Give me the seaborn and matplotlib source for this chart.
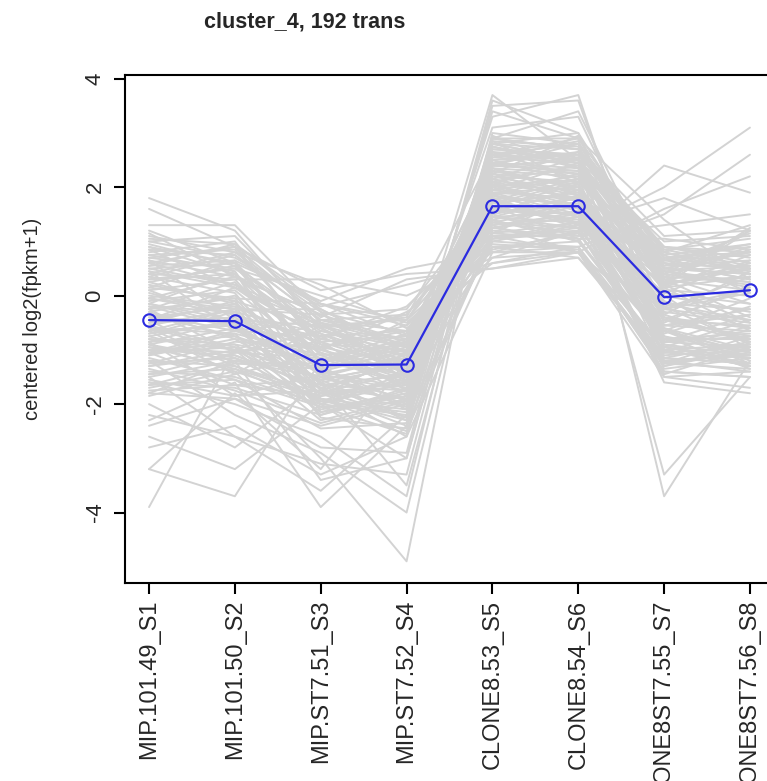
import numpy as np
import pandas as pd
import matplotlib
matplotlib.use("Agg")
import matplotlib.pyplot as plt
import seaborn as sns

samples = ["MIP.101.49_S1", "MIP.101.50_S2", "MIP.ST7.51_S3", "MIP.ST7.52_S4",
           "CLONE8.53_S5", "CLONE8.54_S6", "CLONE8ST7.55_S7", "CLONE8ST7.56_S8"]

cluster_mean = [-0.45, -0.47, -1.28, -1.27, 1.65, 1.65, -0.03, 0.10]

high_early = [
    [1.8, 1.2, -0.6, -1.3, 1.0, 0.9, -1.4, -1.5],
    [1.6, 0.9, -0.9, -1.0, 1.1, 1.2, -1.2, -1.1],
    [1.3, 1.3, -0.3, -1.6, 0.9, 1.0, -1.0, -1.3],
    [1.2, 0.6, -1.2, -0.8, 1.3, 0.8, -0.6, -1.2],
    [1.0, 1.1, -0.5, -0.9, 0.7, 1.2, -1.3, -0.9],
    [0.9, 0.4, -0.7, -1.4, 1.5, 1.0, -0.8, -0.8],
    [1.1, 0.8, 0.2, -0.6, 0.6, 0.8, -1.5, -1.4],
    [0.8, 1.0, -1.0, -0.3, 0.8, 0.9, -1.1, -1.0],
    [0.7, 0.5, 0.0, -0.5, 0.9, 0.7, -0.9, -1.3],
    [0.6, 0.9, -0.4, 0.3, 0.5, 0.8, -1.2, -1.4],
]

typical = [
    [0.5, 0.2, -0.8, -1.1, 1.6, 1.4, -0.6, -1.0],
    [0.3, 0.4, -1.1, -0.9, 1.9, 1.5, -0.9, -1.1],
    [0.2, -0.1, -0.6, -1.3, 1.4, 1.7, -0.4, -0.8],
    [0.1, 0.3, -1.4, -1.0, 1.8, 1.3, -0.2, -0.9],
    [0.0, -0.2, -0.9, -1.5, 1.5, 1.8, -0.3, -0.5],
    [-0.1, 0.1, -1.2, -0.7, 2.0, 1.6, -0.7, -0.2],
    [-0.2, -0.3, -0.7, -1.2, 1.7, 1.9, -0.1, -0.6],
    [-0.3, 0.0, -1.5, -1.1, 1.6, 1.5, 0.3, -0.4],
    [-0.4, -0.5, -1.0, -1.4, 2.1, 1.8, 0.0, -0.3],
    [-0.5, -0.4, -1.3, -0.9, 1.9, 2.0, -0.2, 0.1],
    [-0.6, -0.7, -1.1, -1.6, 1.8, 1.7, 0.4, 0.2],
    [-0.7, -0.3, -1.6, -1.3, 2.2, 1.9, 0.1, 0.0],
    [-0.8, -0.9, -1.2, -1.0, 1.7, 2.1, 0.5, 0.4],
    [-0.9, -0.6, -1.4, -1.7, 2.3, 2.0, 0.3, 0.5],
    [-1.0, -1.1, -1.7, -1.2, 2.0, 2.2, 0.6, 0.3],
    [-1.1, -0.8, -1.0, -1.5, 2.4, 2.3, 0.2, 0.6],
    [-1.2, -1.3, -1.8, -1.4, 2.1, 2.4, 0.7, 0.8],
    [-1.3, -1.0, -1.5, -1.9, 2.5, 2.1, 0.8, 0.5],
    [-1.4, -1.5, -2.0, -1.6, 2.6, 2.5, 0.4, 0.9],
    [-1.5, -1.2, -1.3, -2.1, 2.7, 2.6, 0.9, 0.7],
    [-1.6, -1.7, -2.2, -1.8, 2.8, 2.5, 1.0, 1.1],
    [-1.7, -1.4, -1.9, -2.3, 2.9, 2.7, 1.1, 1.2],
    [-1.8, -1.9, -2.4, -2.0, 2.6, 2.8, 0.8, 1.3],
]

high_late = [
    [-0.2, -0.6, -1.8, -2.4, 1.2, 1.1, 1.3, 1.5],
    [-0.4, -0.2, -2.0, -2.2, 1.0, 1.3, 1.8, 1.2],
    [-0.6, -1.0, -2.3, -1.9, 1.4, 1.0, 2.4, 1.9],
    [-0.3, -0.8, -1.7, -2.6, 0.8, 1.2, 2.0, 3.1],
    [0.1, -0.5, -2.1, -1.8, 0.9, 0.9, 1.5, 2.6],
    [-0.5, -0.1, -1.9, -2.5, 1.1, 0.8, 1.6, 2.2],
]

high_peak = [
    [-0.8, -1.0, -1.8, -1.6, 3.7, 2.5, -0.4, -0.6],
    [-0.9, -1.2, -1.5, -2.0, 3.5, 3.6, -0.8, -0.7],
    [-1.1, -0.7, -2.2, -1.7, 3.3, 3.7, -1.0, -0.9],
    [-0.6, -1.3, -1.9, -2.1, 3.6, 3.0, -0.5, 0.2],
    [-1.0, -0.9, -2.0, -1.5, 3.1, 3.3, 0.0, -1.0],
    [-0.7, -0.5, -1.6, -2.3, 2.9, 3.4, 0.2, -0.5],
    [-1.3, -1.1, -1.7, -1.9, 3.4, 2.9, 1.4, 0.3],
]

low_early = [
    [-3.9, -1.0, -0.5, -1.4, 2.2, 2.1, 0.5, 0.8],
    [-3.2, -3.7, -1.2, -0.8, 2.4, 2.3, 0.9, 0.6],
    [-3.2, -1.8, -3.2, -1.2, 2.3, 2.2, 0.2, 1.2],
    [-2.6, -3.2, -2.0, -3.0, 2.7, 2.6, 0.8, 0.4],
    [-2.3, -1.6, -3.9, -2.4, 2.8, 2.5, 0.6, 0.3],
    [-1.5, -2.6, -3.6, -2.2, 2.6, 2.4, 0.2, 0.5],
    [-0.9, -1.4, -3.0, -4.9, 2.9, 2.7, 0.4, 1.2],
    [-1.2, -2.2, -2.9, -4.0, 2.5, 2.6, 0.7, 0.9],
    [-2.0, -2.8, -1.6, -3.5, 2.4, 2.8, 0.6, 0.5],
    [-1.8, -1.2, -3.4, -3.0, 2.6, 2.5, 0.3, 0.1],
    [-2.8, -2.4, -3.3, -2.6, 2.9, 2.9, 0.7, 0.5],
    [-1.6, -2.0, -2.6, -3.7, 2.8, 2.7, 0.9, 0.8],
    [-2.4, -1.9, -2.8, -2.9, 3.0, 2.8, 0.5, 0.4],
    [-2.2, -2.6, -3.1, -3.3, 2.8, 3.0, 0.5, 0.8],
]

low_s7 = [
    [0.3, 0.5, -0.6, -0.4, 2.6, 2.9, -3.7, -1.2],
    [0.6, 0.2, -0.5, -0.8, 2.4, 2.5, -3.3, -1.5],
    [0.4, 0.8, -0.3, -0.7, 1.9, 1.8, -1.6, -1.8],
    [0.9, 0.6, -0.8, -0.2, 1.3, 1.5, -1.5, -1.7],
]

flat_low_peak = [
    [0.7, 0.9, 0.1, 0.4, 0.5, 0.7, -1.2, -1.1],
    [0.4, 0.3, 0.3, 0.0, 0.7, 0.8, -1.0, -1.3],
    [1.0, 0.7, -0.2, 0.2, 0.6, 0.9, -1.4, -1.5],
    [0.5, 0.6, -0.1, 0.5, 0.8, 0.8, -1.3, -1.0],
]

band_fill = [
    [0.45, 0.15, -0.95, -1.25, 1.45, 1.35, -0.45, -0.75],
    [0.25, 0.55, -1.25, -0.85, 1.75, 1.25, -0.65, -1.05],
    [-0.05, -0.35, -0.85, -1.35, 1.55, 1.65, -0.15, -0.45],
    [-0.25, 0.25, -1.35, -1.05, 1.85, 1.45, -0.55, -0.35],
    [-0.45, -0.15, -1.05, -1.55, 1.95, 1.75, 0.15, -0.65],
    [-0.65, -0.55, -1.45, -1.15, 2.05, 1.95, -0.25, 0.05],
    [-0.85, -0.75, -1.25, -1.45, 2.15, 1.85, 0.35, 0.25],
    [-1.05, -0.95, -1.55, -1.25, 1.95, 2.15, 0.45, 0.15],
    [-1.25, -1.15, -1.65, -1.75, 2.35, 2.25, 0.55, 0.65],
    [-1.45, -1.35, -1.85, -1.55, 2.45, 2.35, 0.65, 0.75],
    [-1.65, -1.55, -2.05, -1.95, 2.55, 2.45, 0.75, 0.95],
    [0.85, 0.75, -0.45, -0.65, 1.15, 1.05, -1.05, -1.15],
    [1.05, 0.95, -0.15, -0.45, 0.95, 0.85, -1.25, -1.35],
    [0.65, 0.35, -0.65, -0.95, 1.35, 1.15, -0.85, -0.95],
    [-0.15, -0.45, -0.55, -0.95, 1.25, 1.45, 0.05, -0.15],
    [-0.35, -0.65, -0.75, -0.65, 1.35, 1.25, 0.25, 0.35],
    [-0.55, -0.25, -0.35, -0.85, 1.15, 1.35, 0.45, 0.55],
    [-0.75, -0.45, -0.95, -0.55, 1.05, 1.15, 0.85, 1.05],
    [-0.95, -1.05, -0.65, -1.05, 1.25, 1.05, 1.05, 0.85],
    [0.15, -0.05, -1.65, -1.45, 2.25, 2.05, -0.35, -0.85],
    [0.35, 0.05, -1.85, -1.65, 2.45, 2.25, -0.75, -1.05],
    [-0.15, 0.45, -2.15, -1.85, 2.65, 2.55, -0.95, -0.45],
    [0.55, 0.65, -1.45, -1.75, 2.75, 2.35, -1.15, -1.25],
    [0.75, 0.45, -1.75, -2.05, 2.15, 2.65, -0.85, -0.65],
    [-0.05, -0.25, -2.25, -2.45, 2.85, 2.75, -0.15, -0.25],
]

band_fill2 = [
    [0.95, 0.55, -0.55, -1.15, 1.25, 1.45, -0.95, -1.25],
    [0.75, 0.85, -0.85, -0.75, 1.05, 1.25, -0.75, -1.35],
    [0.55, 0.95, -0.25, -1.05, 1.65, 1.05, -1.15, -0.85],
    [0.35, 0.75, -0.45, -0.35, 1.45, 1.55, -1.35, -1.15],
    [0.15, 0.65, -0.15, -0.55, 1.15, 1.85, -1.05, -0.95],
    [-0.05, 0.35, -0.35, -0.25, 1.75, 1.35, -1.25, -1.05],
    [-0.25, -0.05, -0.15, -0.75, 1.55, 1.95, -0.65, -1.25],
    [-0.45, 0.15, -0.55, -0.45, 1.85, 1.65, -0.85, -0.75],
    [-0.65, -0.25, -0.25, -1.05, 2.05, 1.55, -0.45, -0.55],
    [-0.85, -0.45, -0.75, -0.35, 1.65, 2.05, -0.55, -0.25],
    [-1.05, -0.65, -0.45, -0.85, 2.25, 1.75, -0.35, 0.45],
    [-1.25, -0.85, -0.95, -0.65, 1.85, 2.25, 0.15, 0.75],
    [-1.45, -1.05, -1.15, -1.35, 2.35, 1.95, 0.55, 1.15],
    [-1.65, -1.25, -1.35, -0.95, 2.05, 2.55, 0.25, 1.25],
    [-1.85, -1.45, -1.05, -1.65, 2.65, 2.15, 0.65, 0.95],
    [-1.75, -1.65, -1.55, -1.25, 2.45, 2.65, 0.85, 0.55],
    [-1.55, -1.85, -1.75, -2.25, 2.75, 2.45, 0.35, 0.85],
    [-1.35, -1.75, -2.35, -1.95, 2.55, 2.85, 0.05, 0.65],
    [-1.15, -1.55, -2.45, -2.35, 2.95, 2.35, -0.25, 0.35],
    [-0.95, -1.35, -2.05, -2.55, 2.25, 2.95, -0.45, 0.15],
    [-0.75, -1.15, -1.95, -2.15, 2.85, 2.05, -0.65, -0.05],
    [-0.55, -0.95, -2.15, -1.75, 1.95, 2.45, -0.85, -0.35],
    [-0.35, -0.75, -1.55, -2.25, 2.35, 1.85, -1.05, -0.55],
    [-0.15, -0.55, -1.95, -1.45, 1.75, 2.15, -1.25, -0.75],
    [0.05, -0.35, -1.35, -1.95, 2.15, 1.75, -1.45, -0.95],
    [0.25, -0.15, -1.75, -1.15, 1.55, 1.95, -0.95, -1.15],
    [0.45, -0.65, -1.15, -1.65, 1.35, 1.65, -0.55, -0.65],
    [0.65, -0.45, -0.95, -1.85, 1.85, 1.45, -0.25, -0.45],
    [0.85, 0.15, -0.75, -1.45, 1.05, 1.35, -0.45, -0.85],
    [1.15, 0.35, -0.35, -0.95, 0.85, 1.15, -0.65, -1.05],
    [-0.45, -1.25, -1.25, -0.45, 1.45, 1.25, 0.45, 0.25],
    [-0.65, -1.45, -0.55, -1.25, 1.25, 1.55, 0.65, 0.45],
    [-0.25, -1.05, -0.85, -1.75, 1.65, 1.35, 0.75, 0.05],
    [-1.05, -1.65, -1.85, -1.05, 1.45, 1.85, 0.35, -0.15],
    [-0.85, -1.85, -1.45, -2.05, 2.05, 1.65, 0.15, 0.35],
]

title_text = "cluster_4, 192 trans"
ylabel_text = "centered log2(fpkm+1)"
yticks = [-4, -2, 0, 2, 4]

# ---- build long table ----
groups = [high_early, typical, high_late, high_peak, low_early, low_s7,
          flat_low_peak, band_fill, band_fill2]
rows = []
gid = 0
for g in groups:
    for prof in g:
        for i, v in enumerate(prof):
            rows.append({"gene": gid, "pos": i + 1, "value": v})
        gid += 1
df = pd.DataFrame(rows)
df_mean = pd.DataFrame({"pos": np.arange(1, len(samples) + 1), "value": cluster_mean})

sns.set_style("ticks")
plt.rcParams["font.family"] = ["Liberation Sans", "DejaVu Sans"]

fig = plt.figure(figsize=(7.67, 7.81), dpi=100)
W, H = 767, 781
ax = fig.add_axes([125 / W, (H - 583) / H, (774 - 125) / W, (583 - 75) / H])

sns.lineplot(data=df, x="pos", y="value", units="gene", estimator=None,
             color="#d3d3d3", linewidth=1.4, ax=ax, legend=False)
sns.lineplot(data=df_mean, x="pos", y="value", color="#2b2be0", linewidth=1.6,
             marker="o", markersize=9, markerfacecolor="none",
             markeredgecolor="#2b2be0", markeredgewidth=1.5, ax=ax, legend=False)

ax.set_xlim(0.72, 8.28)
ax.set_ylim(-5.30, 4.07)
ax.set_xticks(np.arange(1, len(samples) + 1))
ax.set_xticklabels(samples, rotation=90, fontsize=17, va="top")
ax.set_yticks(yticks)
ax.set_yticklabels([str(t) for t in yticks], rotation=90, va="center", fontsize=16)
ax.set_xlabel("")
ax.set_ylabel(ylabel_text, fontsize=14.5)
ax.yaxis.set_label_coords(-0.128, 0.52)

for s in ax.spines.values():
    s.set_visible(True)
    s.set_linewidth(1.5)
    s.set_color("black")
ax.tick_params(axis="both", direction="out", length=8, width=1.5, color="black")
ax.tick_params(axis="x", pad=4)
ax.tick_params(axis="y", pad=6)

fig.text(305 / W, 1 - 22 / H, title_text, ha="center", va="center",
         fontsize=15.5, fontweight="bold")

fig.savefig("out.png", dpi=100)
